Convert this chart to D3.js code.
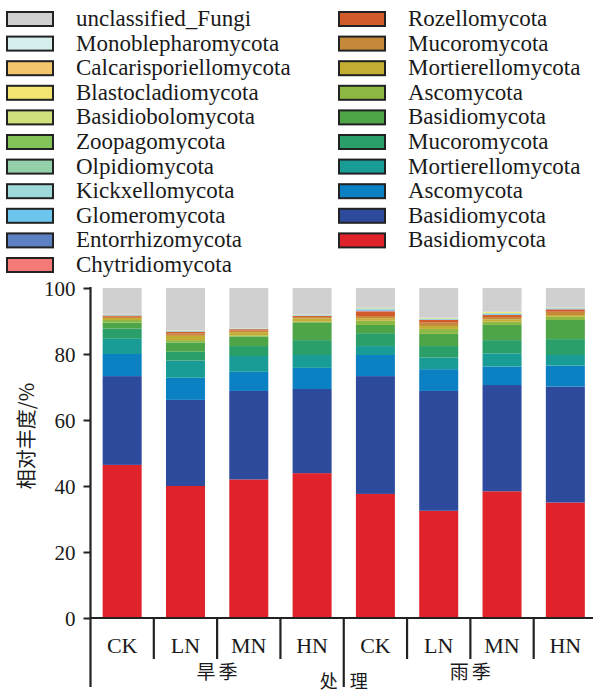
<!DOCTYPE html>
<html>
<head>
<meta charset="utf-8">
<script src="https://cdnjs.cloudflare.com/ajax/libs/d3/7.8.5/d3.min.js"></script>
<style>
  body { margin: 0; background: #fff; }
  svg { display: block; }
  .lat { font-family: "Liberation Serif", "Times New Roman", serif; fill: #1a1a1a; }
  .cjk { font-family: "Noto Sans CJK SC", sans-serif; fill: #1a1a1a; }
</style>
</head>
<body>
<div id="chart"></div>
<script>

var treatments = ["CK", "LN", "MN", "HN", "CK", "LN", "MN", "HN"];
var seasons = ["旱季", "雨季"];
var yTicks = [0, 20, 40, 60, 80, 100];

// relative abundance (%) per bar, stacking order bottom -> top
var basidio_red     = [46.4, 40.0, 42.0, 43.9, 37.6, 32.5, 38.4, 35.0];
var basidio_blue    = [26.9, 26.1, 26.8, 25.5, 35.7, 36.3, 32.2, 35.1];
var asco_blue       = [6.7, 6.7, 5.8, 6.4, 6.4, 6.6, 5.6, 6.4];
var mortier_teal    = [4.6, 5.2, 4.8, 3.9, 2.7, 3.5, 4.0, 3.2];
var mucoro_green    = [3.1, 2.7, 3.0, 4.5, 3.9, 3.5, 4.0, 4.8];
var basidio_green   = [1.8, 2.8, 2.9, 5.4, 2.5, 3.7, 4.6, 5.8];
var asco_lgreen     = [0.8, 0.7, 0.3, 0.2, 1.3, 1.5, 1.0, 1.0];
var mortier_olive   = [0.6, 1.3, 1.0, 1.0, 0.7, 0.9, 0.7, 0.5];
var mucoro_orange   = [0.4, 0.8, 0.5, 0.4, 0.7, 1.0, 0.7, 1.0];
var rozello         = [0.3, 0.4, 0.4, 0.3, 1.4, 0.8, 0.6, 0.7];
var chytridio       = [0.05, 0.05, 0.03, 0.05, 0.10, 0.05, 0.05, 0.05];
var entorrhizo      = [0.05, 0.05, 0.03, 0.05, 0.20, 0.05, 0.05, 0.05];
var glomero         = [0.10, 0.10, 0.05, 0.10, 0.30, 0.15, 0.30, 0.15];
var kickxello       = [0.05, 0.10, 0.05, 0.10, 0.20, 0.10, 0.10, 0.10];
var olpidio         = [0.05, 0.05, 0.03, 0.05, 0.10, 0.05, 0.05, 0.10];
var zoopago         = [0.03, 0.05, 0.03, 0.05, 0.05, 0.05, 0.05, 0.05];
var basidiobolo     = [0.02, 0.02, 0.02, 0.03, 0.05, 0.05, 0.05, 0.03];
var blastoclad      = [0.02, 0.03, 0.03, 0.03, 0.05, 0.10, 0.30, 0.03];
var calcarispor     = [0.02, 0.03, 0.02, 0.02, 0.03, 0.05, 0.03, 0.02];
var monoblephar     = [0.01, 0.02, 0.01, 0.02, 0.02, 0.05, 0.02, 0.02];
var unclassified    = [8.0, 12.8, 12.2, 8.0, 6.0, 9.0, 7.2, 5.9];

var series = [
  {name: "Basidiomycota",          color: "#e0232b", values: basidio_red},
  {name: "Basidiomycota",          color: "#2d4a9c", values: basidio_blue},
  {name: "Ascomycota",             color: "#0b80c3", values: asco_blue},
  {name: "Mortierellomycota",      color: "#1a9c96", values: mortier_teal},
  {name: "Mucoromycota",           color: "#2a9f69", values: mucoro_green},
  {name: "Basidiomycota",          color: "#4ea547", values: basidio_green},
  {name: "Ascomycota",             color: "#8cb843", values: asco_lgreen},
  {name: "Mortierellomycota",      color: "#c3ad33", values: mortier_olive},
  {name: "Mucoromycota",           color: "#c6893a", values: mucoro_orange},
  {name: "Rozellomycota",          color: "#d25b2c", values: rozello},
  {name: "Chytridiomycota",        color: "#f37a76", values: chytridio},
  {name: "Entorrhizomycota",       color: "#5d80c2", values: entorrhizo},
  {name: "Glomeromycota",          color: "#6cc5ec", values: glomero},
  {name: "Kickxellomycota",        color: "#9fd8d8", values: kickxello},
  {name: "Olpidiomycota",          color: "#94d1aa", values: olpidio},
  {name: "Zoopagomycota",          color: "#82c45a", values: zoopago},
  {name: "Basidiobolomycota",      color: "#cfe07c", values: basidiobolo},
  {name: "Blastocladiomycota",     color: "#f3e56f", values: blastoclad},
  {name: "Calcarisporiellomycota", color: "#f3c56d", values: calcarispor},
  {name: "Monoblepharomycota",     color: "#d6eeee", values: monoblephar},
  {name: "unclassified_Fungi",     color: "#d0d0d0", values: unclassified}
];

var width = 593, height = 692;
var plot = {left: 90.5, right: 597, top: 288, bottom: 618};

var svg = d3.select("#chart").append("svg")
    .attr("width", width)
    .attr("height", height);

// table for d3.stack
var table = treatments.map(function(t, i) {
  var row = {idx: i};
  series.forEach(function(s, k) { row["s" + k] = s.values[i]; });
  return row;
});
var keys = series.map(function(s, k) { return "s" + k; });
var stacked = d3.stack().keys(keys)(table);

var x = d3.scaleBand()
    .domain(d3.range(treatments.length))
    .range([plot.left, plot.right])
    .paddingInner(0.384)
    .paddingOuter(0.192);

var y = d3.scaleLinear()
    .domain([0, 100])
    .range([plot.bottom, plot.top]);

// bars
svg.append("g").selectAll("g")
    .data(stacked)
  .enter().append("g")
    .attr("fill", function(d, k) { return series[k].color; })
  .selectAll("rect")
    .data(function(d) { return d; })
  .enter().append("rect")
    .attr("x", function(d, i) { return x(i); })
    .attr("width", x.bandwidth())
    .attr("y", function(d) { return y(Math.min(d[1], 100)); })
    .attr("height", function(d) { return y(d[0]) - y(Math.min(d[1], 100)); });

// y axis
var yAxis = svg.append("g")
    .attr("transform", "translate(" + plot.left + ",0)")
    .call(d3.axisLeft(y).tickValues(yTicks).tickSize(7).tickPadding(8));
yAxis.select(".domain").remove();
yAxis.selectAll(".tick line").attr("stroke", "#222").attr("stroke-width", 2);
yAxis.selectAll(".tick text")
    .attr("class", "lat")
    .attr("font-size", 21)
    .attr("dy", "0.34em");

svg.append("line")
    .attr("x1", plot.left).attr("x2", plot.left)
    .attr("y1", y(100) - 1).attr("y2", 687)
    .attr("stroke", "#222").attr("stroke-width", 2.2);

// bottom baseline and dividers
svg.append("line")
    .attr("x1", plot.left).attr("x2", width)
    .attr("y1", y(0)).attr("y2", y(0))
    .attr("stroke", "#222").attr("stroke-width", 2.2);

var step = x.step();
svg.append("g").selectAll("line")
    .data(d3.range(1, treatments.length))
  .enter().append("line")
    .attr("x1", function(i) { return plot.left + i * step; })
    .attr("x2", function(i) { return plot.left + i * step; })
    .attr("y1", y(0))
    .attr("y2", function(i) { return i == 4 ? 687 : 659; })
    .attr("stroke", "#222").attr("stroke-width", 2.2);

svg.append("g").selectAll("text")
    .data(treatments)
  .enter().append("text")
    .attr("class", "lat")
    .attr("font-size", 22)
    .attr("text-anchor", "middle")
    .attr("x", function(d, i) { return x(i) + x.bandwidth() / 2; })
    .attr("y", 653)
    .text(function(d) { return d; });

svg.append("g").selectAll("text")
    .data(seasons)
  .enter().append("text")
    .attr("class", "cjk")
    .attr("font-size", 19)
    .attr("letter-spacing", 3)
    .attr("text-anchor", "middle")
    .attr("x", function(d, i) { return plot.left + (i * 4 + 2) * step + 1.5; })
    .attr("y", 679)
    .text(function(d) { return d; });

svg.append("text")
    .attr("class", "cjk")
    .attr("font-size", 18)
    .attr("letter-spacing", 4)
    .attr("text-anchor", "middle")
    .attr("x", plot.left + 4 * step + 2)
    .attr("y", 688)
    .text("处 理");

svg.append("text")
    .attr("class", "cjk")
    .attr("font-size", 20)
    .attr("text-anchor", "middle")
    .attr("transform", "translate(34,436) rotate(-90)")
    .text("相对丰度/%");

// legend: top of stack first, column-major
var legendItems = series.slice().reverse();
var legend = svg.append("g").selectAll("g")
    .data(legendItems)
  .enter().append("g")
    .attr("transform", function(d, i) {
      var col = i < 11 ? 0 : 1, row = i < 11 ? i : i - 11;
      return "translate(" + (col ? 339 : 7) + "," + (19 + row * 24.6) + ")";
    });

legend.append("rect")
    .attr("x", 0).attr("y", -7)
    .attr("width", 46).attr("height", 14)
    .attr("fill", function(d) { return d.color; })
    .attr("stroke", "#222").attr("stroke-width", 2);

legend.append("text")
    .attr("class", "lat")
    .attr("font-size", 23)
    .attr("x", 69)
    .attr("y", 7)
    .text(function(d) { return d.name; });

</script>
</body>
</html>
